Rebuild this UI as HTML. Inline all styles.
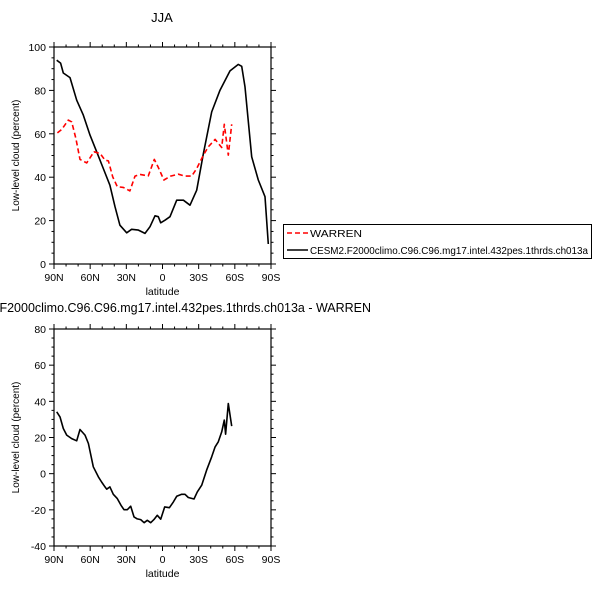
<!DOCTYPE html>
<html><head><meta charset="utf-8"><style>
html,body{margin:0;padding:0;background:#fff;}
svg{display:block;font-family:"Liberation Sans",Arial,sans-serif;}
</style></head><body>
<svg id="chart" width="602" height="604" viewBox="0 0 602 604" xmlns="http://www.w3.org/2000/svg">
<text x="162" y="22" font-size="13" text-anchor="middle">JJA</text>
<text x="162" y="312" font-size="12.5" text-anchor="middle" textLength="418" lengthAdjust="spacingAndGlyphs">CESM2.F2000climo.C96.C96.mg17.intel.432pes.1thrds.ch013a - WARREN</text>
<g>
<rect x="283.5" y="224.5" width="308" height="34" fill="#fff" stroke="#000" stroke-width="1"/>
<g>
<line x1="287" y1="233" x2="308" y2="233" stroke="#f00" stroke-width="1.5" stroke-dasharray="5,3"/>
<text x="310" y="237" font-size="10" textLength="52" lengthAdjust="spacingAndGlyphs">WARREN</text></g>
<g>
<line x1="287" y1="250" x2="308" y2="250" stroke="#000" stroke-width="1.5"/>
<text x="310" y="254" font-size="10" textLength="278" lengthAdjust="spacingAndGlyphs">CESM2.F2000climo.C96.C96.mg17.intel.432pes.1thrds.ch013a</text></g>
</g>
</svg>
<script>
const latTicks=[90,60,30,0,-30,-60,-90];
const latTickLabels=["90N","60N","30N","0","30S","60S","90S"];
const topYTicks=[0,20,40,60,80,100];
const botYTicks=[-40,-20,0,20,40,60,80];
const cesmLat=[87.8,84.5,82.3,76.7,71.2,65.7,60.1,54.6,49.1,43.6,39.4,35.3,29.7,25.6,20,14.5,10.4,6.2,3.5,1.5,-2.1,-6.2,-11.8,-17.3,-22.8,-28.4,-33.9,-40.8,-47.7,-56,-62.9,-65.7,-68.4,-74,-79.5,-85,-87.8];
const cesmVal=[93.9,92.6,88,85.9,75.5,68.6,59.4,51.7,44,36.3,26.4,17.9,14.4,16,15.6,14.1,17.2,22.2,21.8,19,20.2,21.8,29.4,29.4,27.1,34,50.9,70.1,80.1,89,92,91.1,81.6,49.4,38.7,31,9.2];
const warrenLat=[87.2,83.6,78.1,75.3,71.8,68.4,62.9,56.8,51.8,47.7,44.9,41.3,37.5,32.5,27,22.8,18.7,11.8,6.8,3.5,-1.2,-6.8,-13.1,-18.7,-24.2,-28.4,-33.9,-38,-43.6,-49.1,-51.3,-54.6,-57.4];
const warrenVal=[60.4,62,66.3,65.5,57.8,48.2,46.6,51.7,50.9,47.9,47.5,40.2,35.6,35.3,33.7,40.5,41.3,40.6,48.2,44.5,38.7,40.5,41.4,40.5,40.5,44,50.2,54,57.4,53.7,64.4,50.2,64.4];
const diffLat=[87.8,85,82.3,79.5,75.3,71.2,68.4,64.3,61.5,57.4,53.2,50.5,47.7,46.3,43.6,40.8,37.5,34.4,31.9,29.2,26.4,23.6,20.9,18.1,15.3,12.6,9.8,7.1,4.3,1.5,-1.8,-5.7,-9,-11.8,-15.9,-18.7,-21.4,-26.1,-28.9,-32.5,-36.6,-40.8,-43.6,-46.3,-49.1,-51.3,-52.3,-54.6,-57.4];
const diffVal=[34.2,31.4,25,21.3,19.4,18.2,24.4,21.3,16.7,3.8,-1.8,-4.6,-7.3,-8.6,-7.3,-11.4,-13.8,-17.5,-19.9,-19.9,-18,-23.9,-25,-25.4,-27.1,-25.8,-27.1,-25.4,-23,-25.2,-18.4,-18.8,-15.6,-12.5,-11.4,-11.4,-13.2,-14,-10.1,-6.4,1.9,9.3,14.8,17.6,23.1,29.6,21.8,38.8,26.3];

const NS="http://www.w3.org/2000/svg";
const svg=document.getElementById('chart');
function mk(tag,attrs,parent){const e=document.createElementNS(NS,tag);for(const k in attrs)e.setAttribute(k,attrs[k]);(parent||svg).appendChild(e);return e;}

function panel(name,L,T,R,B,ymin,ymax,yTicks,minorStep,series){
  const g=mk('g',{});
  
  
  const x=lat=>L+(90-lat)/180*(R-L);
  const y=v=>B-(v-ymin)/(ymax-ymin)*(B-T);
  series.forEach(s=>{
    const d=s.lat.map((la,i)=>(i?'L':'M')+x(la).toFixed(1)+','+y(s.val[i]).toFixed(1)).join(' ');
    const p=mk('path',{d:d,fill:'none',stroke:s.color,'stroke-width':1.6,'stroke-linejoin':'round'},g);
    if(s.dash)p.setAttribute('stroke-dasharray',s.dash);
    
    
  });
  const fr=mk('rect',{x:L,y:T,width:R-L,height:B-T,fill:'none',stroke:'#000','stroke-width':1.2},g);
  
  
  const xa=mk('g',{},g);
  
  
  for(let la=90;la>=-90;la-=10){
    const major=la%30===0, len=major?5:2.5, xx=x(la);
    mk('line',{x1:xx,y1:B,x2:xx,y2:B+len,stroke:'#000','stroke-width':1},xa);
    mk('line',{x1:xx,y1:T,x2:xx,y2:T-len,stroke:'#000','stroke-width':1},xa);
  }
  latTicks.forEach((la,i)=>{
    const t=mk('text',{x:x(la),y:B+17,'font-size':10.5,'text-anchor':'middle'},xa);
    t.textContent=latTickLabels[i];
  });
  const xt=mk('text',{x:(L+R)/2,y:B+31,'font-size':10.5,'text-anchor':'middle'},xa);
  
  
  xt.textContent='latitude';
  const ya=mk('g',{},g);
  
  
  for(let v=ymin;v<=ymax+1e-9;v+=minorStep){
    const major=Math.abs(v%20)<1e-9, len=major?5:2.5, yy=y(v);
    mk('line',{x1:L,y1:yy,x2:L-len,y2:yy,stroke:'#000','stroke-width':1},ya);
    mk('line',{x1:R,y1:yy,x2:R+len,y2:yy,stroke:'#000','stroke-width':1},ya);
  }
  yTicks.forEach(v=>{
    const t=mk('text',{x:L-8,y:y(v)+4,'font-size':10.5,'text-anchor':'end'},ya);
    t.textContent=String(v);
  });
  const cy=(T+B)/2, tx=L-35;
  const yt=mk('text',{x:tx,y:cy,'font-size':10,'text-anchor':'middle',transform:'rotate(-90 '+tx+' '+cy+')'},ya);
  
  
  yt.textContent='Low-level cloud (percent)';
}
panel('top-panel',54,47,271,264,0,100,topYTicks,5,[
  {lat:cesmLat,val:cesmVal,color:'#000',name:'cesm2-line'},
  {lat:warrenLat,val:warrenVal,color:'#f00',dash:'5,3',name:'warren-line'}
]);
panel('bottom-panel',54,329,271,546,-40,80,botYTicks,5,[
  {lat:diffLat,val:diffVal,color:'#000',name:'difference-line'}
]);
</script>
</body></html>
